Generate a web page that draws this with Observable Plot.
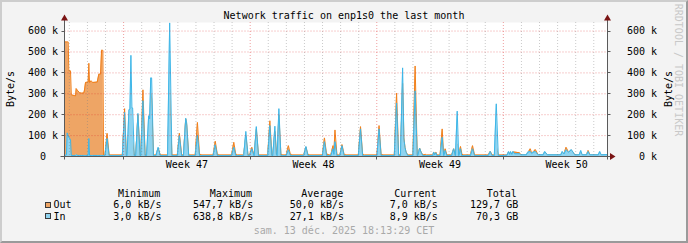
<!DOCTYPE html>
<html>
<head>
<meta charset="utf-8">
<script src="https://cdn.jsdelivr.net/npm/d3@7"></script>
<script src="https://cdn.jsdelivr.net/npm/@observablehq/plot@0.6"></script>
<style>
html, body { margin:0; padding:0; background:#f3f3f3; }
#page { position:relative; width:688px; height:243px; background:#f3f3f3; overflow:hidden;
  font-family:"DejaVu Sans Mono", monospace; font-size:10px; color:#000; }
#page .t { position:absolute; white-space:pre; line-height:10px; }
#frame { position:absolute; left:0; top:0; width:688px; height:243px; box-sizing:border-box;
  border-top:2px solid #cdcdcd; border-left:2px solid #cdcdcd; border-right:2px solid #9a9a9a; border-bottom:2px solid #9a9a9a; pointer-events:none; }
#plot { position:absolute; left:0; top:0; }
.sw { position:absolute; width:4px; height:4px; border:1px solid #3a3a3a; }
</style>
</head>
<body>
<div id="page">
  <div id="plot"></div>
  <div id="frame"></div>
</div>
<script>
// ---- data (time in days since 13 Nov 2025 00:00, rates in kB/s) ----
const days = [
 0.759,0.842,0.881,0.936,0.970,1.064,1.108,1.341,1.380,1.468,1.562,1.656,1.801,1.839,1.895,2.039,2.078,2.116,2.211,2.283,
 2.543,2.632,2.726,2.781,2.853,2.892,2.970,3.086,3.200,3.930,4.055,4.150,4.190,4.294,4.350,4.404,4.460,4.500,4.590,4.670,
 4.792,4.910,4.950,5.069,5.190,5.270,5.385,5.440,5.500,5.550,5.650,5.790,5.911,6.030,6.430,6.548,6.670,6.970,7.086,7.210,
 7.310,7.435,7.490,7.600,7.960,8.083,8.200,8.250,8.290,8.950,9.069,9.190,9.230,9.270,9.970,10.094,10.210,10.250,10.290,10.640,
 10.759,10.880,10.970,11.091,11.210,11.220,11.340,11.460,11.970,12.088,12.200,12.250,12.365,12.450,12.490,12.587,12.700,12.750,12.800,12.990,
 13.113,13.230,13.270,13.310,13.960,14.083,14.200,14.250,14.290,14.990,15.108,15.230,15.300,15.340,15.460,15.579,15.630,15.689,15.800,15.960,
 16.077,16.200,16.250,16.290,16.980,17.102,17.220,17.270,17.310,18.010,18.127,18.240,18.290,18.340,18.970,19.096,19.210,19.310,19.429,19.500,
 19.560,19.620,19.720,20.000,20.121,20.240,20.270,20.371,20.450,20.550,20.700,20.740,21.100,21.150,21.200,21.270,21.330,21.500,21.617,21.700,
 21.710,21.783,21.880,22.140,22.254,22.340,22.350,22.448,22.530,22.540,22.631,22.700,22.760,23.180,23.296,23.410,24.160,24.276,24.380,24.500,
 24.609,24.720,25.200,25.290,25.350,25.400,25.470,25.530,25.620,25.900,25.950,26.270,26.360,26.490,26.570,26.640,26.770,26.920,27.200,27.290,
 27.430,28.180,28.260,28.350,28.470,28.610,28.760,28.950,29.200,29.280,29.360,29.600,29.690,29.780,30.250,30.330,30.410,30.759
];
const outK = [
 548,548,548,548,410,410,295,290,325,314,306,303,304,318,354,356,446,354,362,354,
 356,394,394,508,508,7,7,111,7,7,229,7,7,80,90,120,80,70,7,7,
 200,7,7,319,7,7,120,100,300,280,7,7,40,7,7,320,7,7,111,7,
 7,180,150,7,7,163,7,12,7,7,73,7,10,7,7,68,7,10,7,7,
 100,7,7,44,7,7,130,7,7,171,7,7,120,20,7,200,7,10,7,7,
 52,7,10,7,7,45,7,10,7,7,89,7,12,7,7,52,20,127,7,7,
 57,7,10,7,7,143,7,10,7,7,148,7,10,7,7,303,7,7,350,90,
 44,21,7,7,433,7,7,40,21,7,10,7,7,21,8,21,7,7,132,7,
 7,37,7,7,37,7,7,60,7,7,48,15,7,7,52,7,7,24,7,7,
 50,7,7,20,12,20,12,21,21,18,9,9,18,37,15,20,33,9,9,20,
 9,9,20,12,44,20,30,9,9,20,9,9,29,9,9,12,9,7
];
const inK = [
 5,8,113,100,92,81,5,5,8,5,5,5,5,5,5,5,86,5,5,5,
 5,5,5,5,5,4,4,86,4,4,211,4,4,222,228,484,232,232,4,4,
 206,4,4,267,4,4,195,180,376,376,4,4,44,4,4,639,4,4,100,4,
 4,183,160,4,4,103,4,4,4,4,56,4,4,4,4,45,4,4,4,4,
 120,4,4,37,4,4,143,4,4,148,4,4,145,10,4,229,4,4,4,4,
 32,4,4,4,4,48,4,4,4,4,71,4,4,4,4,37,10,71,4,4,
 52,4,4,4,4,132,4,4,4,4,132,4,4,4,4,256,4,4,424,84,
 44,21,4,4,314,4,4,40,21,4,4,4,4,21,8,18,4,4,92,4,
 4,29,4,4,37,4,4,217,4,4,37,4,4,4,37,4,4,24,4,4,
 252,4,6,24,10,24,10,24,13,13,8,8,21,24,14,20,24,8,8,24,
 8,8,24,12,32,20,33,8,8,29,8,8,24,8,8,24,8,9
];
const yTicks = [0, 100, 200, 300, 400, 500, 600];
const dayLines = [1,2,3,5,6,7,8,9,10,12,13,14,15,16,17,19,20,21,22,23,24,26,27,28,29,30];
const mondays = [4, 11, 18, 25];
const weekCenters = [7.5, 14.5, 21.5, 28.5];
const weekLabels = ["Week 47", "Week 48", "Week 49", "Week 50"];
const xDomain = [0.759, 30.759];
const yDomain = [0, 641];

const seriesNames = ["Out", "In"];
const statHeaders = ["Minimum", "Maximum", "Average", "Current", "Total"];
const statOut = ["6,0 kB/s", "547,7 kB/s", "50,0 kB/s", "7,0 kB/s", "129,7 GB"];
const statIn  = ["3,0 kB/s", "638,8 kB/s", "27,1 kB/s", "8,9 kB/s", "70,3 GB"];
const titleText = "Network traffic on enp1s0 the last month";
const unitText = "Byte/s";
const dateText = "sam. 13 déc. 2025 18:13:29 CET";
const watermark = "RRDTOOL / TOBI OETIKER";

// ---- styling ----
const OUT_FILL = "#eea565", OUT_LINE = "#f2801a";
const IN_FILL = "#8fd3ef", IN_LINE = "#3db6e8";
const AXIS = "#5a5a5a", ARROW = "#7a1414";

const traffic = days.map((d, i) => ({day: d, out: outK[i], in: inK[i]}));
const fmtL = v => v === 0 ? "0\u00a0\u00a0" : `${v} k`;
const fmtR = v => `${v} k`;

function decor(index, {x, y}) {
  const g = d3.create("svg:g");
  const xl = Math.floor(x(xDomain[0])) + 0.5;
  const xr = Math.floor(x(xDomain[1])) + 0.5;
  const y0 = Math.round(y(0)) + 0.5;
  const yt = Math.round(y(yDomain[1]));
  for (const v of yTicks) {
    const yy = Math.round(y(v)) + 0.5;
    g.append("line").attr("x1", xl - 3).attr("x2", xl).attr("y1", yy).attr("y2", yy).attr("stroke", AXIS);
    g.append("line").attr("x1", xr).attr("x2", xr + 3).attr("y1", yy).attr("y2", yy).attr("stroke", AXIS);
  }
  for (const m of mondays) {
    const xx = Math.round(x(m)) + 0.5;
    g.append("line").attr("x1", xx).attr("x2", xx).attr("y1", y0).attr("y2", y0 + 3).attr("stroke", AXIS);
  }
  g.append("line").attr("x1", xl).attr("x2", xl).attr("y1", y0 + 3).attr("y2", yt - 2).attr("stroke", AXIS);
  g.append("line").attr("x1", xr).attr("x2", xr).attr("y1", y0 + 3).attr("y2", yt - 2).attr("stroke", AXIS);
  g.append("line").attr("x1", xl - 4).attr("x2", xr + 3).attr("y1", y0).attr("y2", y0).attr("stroke", AXIS);
  for (const ax of [xl, xr]) {
    g.append("path").attr("d", `M${ax},${yt - 7.5}L${ax - 3.5},${yt - 1.5}L${ax + 3.5},${yt - 1.5}Z`).attr("fill", ARROW);
  }
  g.append("path").attr("d", `M${xr + 8},${y0}L${xr + 2.5},${y0 - 3.5}L${xr + 2.5},${y0 + 3.5}Z`).attr("fill", ARROW);
  return g.node();
}

const chart = Plot.plot({
  width: 688, height: 175,
  marginLeft: 64.5, marginRight: 81, marginTop: 22, marginBottom: 19,
  x: {domain: xDomain, axis: null},
  y: {domain: yDomain, axis: null},
  style: {background: "transparent", fontFamily: "'DejaVu Sans Mono', monospace", fontSize: "10px", overflow: "visible", color: "#000"},
  marks: [
    Plot.frame({fill: "white", stroke: "none"}),
    Plot.areaY(traffic, {x: "day", y: "out", fill: OUT_FILL}),
    Plot.lineY(traffic, {x: "day", y: "out", stroke: OUT_LINE, strokeWidth: 1}),
    Plot.areaY(traffic, {x: "day", y: "in", fill: IN_FILL}),
    Plot.lineY(traffic, {x: "day", y: "in", stroke: IN_LINE, strokeWidth: 1}),
    Plot.ruleX(dayLines, {stroke: "rgba(128,128,128,0.42)", strokeDasharray: "1,2"}),
    Plot.ruleX(mondays, {stroke: "rgba(220,40,40,0.45)", strokeDasharray: "1,2"}),
    Plot.ruleY(yTicks.filter(v => v > 0), {stroke: "rgba(220,40,40,0.45)", strokeDasharray: "1,2"}),
    decor,
    Plot.text(yTicks, {x: xDomain[0], y: d => d, text: fmtL, textAnchor: "end", dx: -7, fill: "#000"}),
    Plot.text(yTicks, {x: xDomain[1], y: d => d, text: fmtR, textAnchor: "end", dx: 49.5, fill: "#000"}),
    Plot.text(weekCenters, {x: d => d, y: 0, text: (d, i) => weekLabels[i], lineAnchor: "top", dy: 4.5, fill: "#000"})
  ]
});
document.getElementById("plot").appendChild(chart);

// ---- title, labels, legend ----
const page = document.getElementById("page");
function addText(txt, css) {
  const el = document.createElement("div");
  el.className = "t";
  el.textContent = txt;
  Object.assign(el.style, css);
  page.insertBefore(el, document.getElementById("frame"));
  return el;
}
addText(titleText, {left: "0px", top: "10.5px", width: "688px", textAlign: "center"});
addText(unitText, {left: "10.8px", top: "88.5px", transform: "translate(-50%,-50%) rotate(-90deg)"});
addText(unitText, {left: "669px", top: "88.5px", transform: "translate(-50%,-50%) rotate(-90deg)"});
addText(watermark, {left: "678.2px", top: "70px", transform: "translate(-50%,-50%) rotate(90deg)", color: "#c8c8c8"});

const headerRight = [160.2, 252, 343.4, 436.5, 516.8];
const valueRight = [161.5, 253.2, 344, 437.8, 518.2];
const rowTops = [200.1, 211.7];
statHeaders.forEach((h, i) => addText(h, {left: (headerRight[i] - 120) + "px", width: "120px", textAlign: "right", top: "188.5px"}));
[statOut, statIn].forEach((row, r) => {
  const sw = document.createElement("div");
  sw.className = "sw";
  Object.assign(sw.style, {left: "45px", top: (rowTops[r] + 1.5) + "px", background: r === 0 ? OUT_FILL : IN_FILL});
  page.insertBefore(sw, document.getElementById("frame"));
  addText(seriesNames[r], {left: "53.5px", top: rowTops[r] + "px"});
  row.forEach((v, i) => addText(v, {left: (valueRight[i] - 120) + "px", width: "120px", textAlign: "right", top: rowTops[r] + "px"}));
});
addText(dateText, {left: "0px", top: "226px", width: "688px", textAlign: "center", color: "#a9a9a9"});
</script>
</body>
</html>
